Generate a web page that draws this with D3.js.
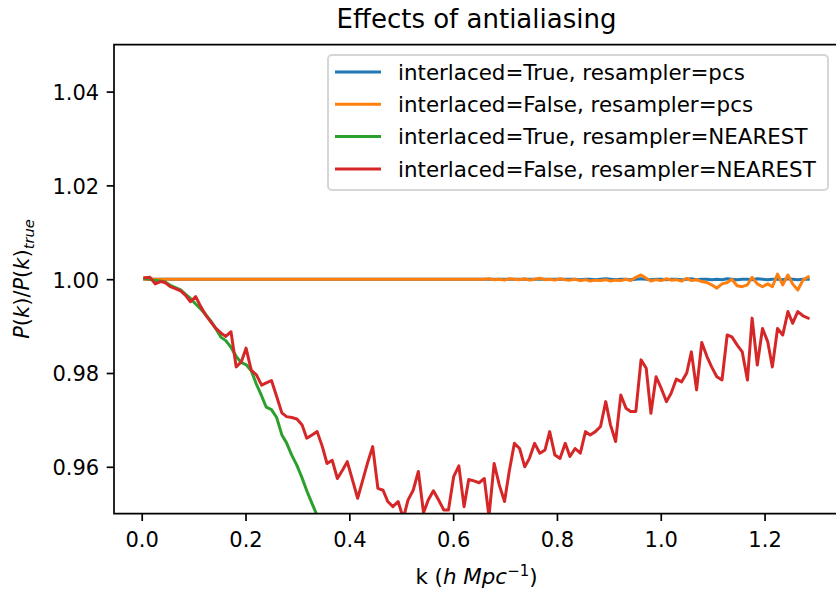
<!DOCTYPE html>
<html><head><meta charset="utf-8">
<script src="https://cdn.jsdelivr.net/npm/d3@7"></script>
<style>body{margin:0;background:#fff}svg{display:block}</style>
</head><body><svg id="c" width="836" height="590"></svg>
<script>
// ---- data ----
const k = [0.006,0.016,0.026,0.036,0.045,0.055,0.065,0.075,0.084,0.094,
0.104,0.114,0.123,0.133,0.143,0.153,0.162,0.172,0.182,0.192,
0.201,0.211,0.221,0.231,0.240,0.250,0.260,0.270,0.279,0.289,
0.299,0.309,0.318,0.328,0.338,0.348,0.357,0.367,0.377,0.387,
0.396,0.406,0.416,0.426,0.435,0.445,0.455,0.465,0.474,0.484,
0.494,0.504,0.513,0.523,0.533,0.543,0.552,0.562,0.572,0.582,
0.591,0.601,0.611,0.621,0.630,0.640,0.650,0.660,0.669,0.679,
0.689,0.699,0.708,0.718,0.728,0.738,0.747,0.757,0.767,0.777,
0.786,0.796,0.806,0.816,0.825,0.835,0.845,0.855,0.864,0.874,
0.884,0.894,0.903,0.913,0.923,0.933,0.942,0.952,0.962,0.972,
0.981,0.991,1.001,1.011,1.020,1.030,1.040,1.050,1.059,1.069,
1.079,1.089,1.098,1.108,1.118,1.128,1.137,1.147,1.157,1.167,
1.176,1.186,1.196,1.206,1.215,1.225,1.235,1.245,1.254,1.264,
1.274,1.284];

const interlacedPcs = [1,1,1,1,1,1,1,1,1,1,
1,1,1,1,1,1,1,1,1,1,
1,1,1,1,1,1,1,1,1,1,
1,1,1,1,1,1,1,1,1,1,
1,1,1,1,1,1,1,1,1,1,
1,1,1,1,1,1,1,1,1,1,
1,1,1,1,1,1,1,1,1,1,
1,1,1,1,1,1,1,1,1,1,
1,1,1,1,1,1.0000,0.9999,1.0000,1.0000,0.9999,
1.0000,1.0001,1.0000,0.9999,1.0000,1.0000,0.9999,1.0000,1.0001,1.0000,
0.9999,1.0000,1.0000,0.9999,1.0000,1.0000,0.9999,1.0000,1.0001,0.9999,
1.0000,1.0000,0.9999,1.0000,0.9999,1.0001,1.0000,0.9999,1.0000,1.0000,
0.9999,1.0001,1.0000,0.9999,1.0000,1.0000,0.9999,1.0001,1.0000,0.9999,
1.0000,1.0000];

const plainPcs = [1,1,1,1,1,1,1,1,1,1,
1,1,1,1,1,1,1,1,1,1,
1,1,1,1,1,1,1,1,1,1,
1,1,1,1,1,1,1,1,1,1,
1,1,1,1,1,1,1,1,1,1,
1,1,1,1,1,1,1,1,1,1,
1,1,1,1,1,1,1,1,1.0001,0.9999,
1.0000,0.9998,1.0001,1.0000,0.9999,1.0001,0.9998,1.0000,1.0002,0.9999,
1.0000,0.9998,1.0001,0.9999,0.9998,1.0000,0.9997,0.9999,0.9996,0.9998,
0.9997,0.9999,0.9996,0.9998,0.9997,1.0000,0.9997,1.0004,1.0009,1.0002,
0.9996,0.9999,0.9997,1.0001,0.9998,0.9999,0.9996,1.0002,0.9997,0.9999,
0.9995,0.9993,0.9988,0.9981,0.9990,0.9993,1.0000,0.9986,0.9984,0.9988,
1.0004,0.9990,0.9984,0.9990,0.9984,1.0011,0.9988,1.0009,0.9990,0.9977,
0.9998,1.0005];

const interlacedNearest = [1.0002,1.0000,0.9997,0.9996,0.9994,0.9987,0.9982,0.9977,0.9968,0.9959,
0.9947,0.9936,0.9925,0.9911,0.9894,0.9876,0.9869,0.9855,0.9835,0.9822,
0.9818,0.9805,0.9776,0.9751,0.9727,0.9722,0.9705,0.9668,0.9651,0.9625,
0.9603,0.9576,0.9549,0.9522,0.9496,0.9468,0.9440,0.9410];

const plainNearest = [1.0003,1.0004,0.9990,0.9995,0.9993,0.9984,0.9980,0.9975,0.9966,0.9952,
0.9963,0.9941,0.9924,0.9909,0.9895,0.9885,0.9878,0.9888,0.9813,0.9824,
0.9853,0.9806,0.9796,0.9774,0.9779,0.9784,0.9750,0.9715,0.9707,0.9705,
0.9702,0.9689,0.9661,0.9668,0.9675,0.9643,0.9607,0.9614,0.9575,0.9593,
0.9611,0.9572,0.9533,0.9572,0.9608,0.9643,0.9554,0.9550,0.9526,0.9515,
0.9526,0.9490,0.9529,0.9550,0.9590,0.9502,0.9529,0.9549,0.9529,0.9508,
0.9508,0.9579,0.9602,0.9515,0.9573,0.9570,0.9566,0.9575,0.9494,0.9607,
0.9561,0.9526,0.9590,0.9650,0.9639,0.9600,0.9618,0.9650,0.9629,0.9636,
0.9675,0.9625,0.9618,0.9650,0.9622,0.9639,0.9629,0.9675,0.9668,0.9675,
0.9686,0.9739,0.9690,0.9654,0.9753,0.9725,0.9718,0.9718,0.9828,0.9810,
0.9714,0.9792,0.9767,0.9739,0.9757,0.9787,0.9781,0.9800,0.9845,0.9764,
0.9865,0.9835,0.9813,0.9792,0.9785,0.9881,0.9877,0.9860,0.9845,0.9785,
0.9917,0.9817,0.9895,0.9867,0.9813,0.9895,0.9881,0.9931,0.9906,0.9931,
0.9922,0.9917];

const seriesLabels = ["interlaced=True, resampler=pcs","interlaced=False, resampler=pcs",
  "interlaced=True, resampler=NEAREST","interlaced=False, resampler=NEAREST"];
const seriesValues = [interlacedPcs, plainPcs, interlacedNearest, plainNearest];
const colors = ["#1f77b4","#ff7f0e","#2ca02c","#d62728"];
const xTicks = [0.0,0.2,0.4,0.6,0.8,1.0,1.2];
const yTicks = [0.96,0.98,1.00,1.02,1.04];
const titleText = "Effects of antialiasing";

// ---- layout ----
const FONT = "'DejaVu Sans', sans-serif";
const FS = 21;
const LFS = 21.4;
const L = 114, R = 839, T = 44.7, B = 513.7;
const svg = d3.select("#c");
const x = d3.scaleLinear().domain([-0.0534, 1.3434]).range([L, R]);
const y = d3.scaleLinear().domain([0.95, 1.05]).range([B, T]);

svg.append("defs").append("clipPath").attr("id","clip")
  .append("rect").attr("x",L).attr("y",T).attr("width",R-L).attr("height",B-T);

const line = d3.line().x(d=>x(d[0])).y(d=>y(d[1]));
const plot = svg.append("g").attr("clip-path","url(#clip)");
seriesValues.forEach((vals,i)=>{
  plot.append("path").datum(vals.map((v,j)=>[k[j],v]))
    .attr("d",line).attr("fill","none").attr("stroke",colors[i])
    .attr("stroke-width",3).attr("stroke-linejoin","round").attr("stroke-linecap","square");
});

// axes
const gx = svg.append("g").attr("transform",`translate(0,${B})`)
  .call(d3.axisBottom(x).tickValues(xTicks).tickFormat(d3.format(".1f")).tickSize(7.3).tickPadding(11.5));
const gy = svg.append("g").attr("transform",`translate(${L},0)`)
  .call(d3.axisLeft(y).tickValues(yTicks).tickFormat(d3.format(".2f")).tickSize(7.3).tickPadding(7.5));
[gx,gy].forEach(g=>{
  g.select(".domain").remove();
  g.selectAll("line").attr("stroke","#000").attr("stroke-width",1.7);
  g.selectAll("text").attr("font-family",FONT).attr("font-size",FS).attr("fill","#000");
});
gy.selectAll("text").attr("dy","0.38em");

// frame
const fr = svg.append("g").attr("stroke","#000").attr("stroke-width",1.7).attr("fill","none");
fr.append("path").attr("d",`M${L},${B}V${T}H${R}V${B}Z`).attr("stroke-linejoin","miter");

// title
svg.append("text").attr("x",(L+R)/2).attr("y",28).attr("text-anchor","middle")
  .attr("font-family",FONT).attr("font-size",26).attr("fill","#000").text(titleText);

// x label
const xl = svg.append("text").attr("x",(L+R)/2).attr("y",584).attr("text-anchor","middle")
  .attr("font-family",FONT).attr("font-size",LFS).attr("fill","#000");
xl.append("tspan").text("k (");
xl.append("tspan").attr("font-style","italic").text("h Mpc");
xl.append("tspan").attr("font-size",LFS*0.7).attr("dy",-8).text("\u22121");
xl.append("tspan").attr("dy",8).text(")");

// y label
const yl = svg.append("text").attr("transform","translate(29,279) rotate(-90)")
  .attr("text-anchor","middle").attr("font-family",FONT).attr("font-size",FS).attr("fill","#000");
yl.append("tspan").attr("font-style","italic").text("P");
yl.append("tspan").text("(");
yl.append("tspan").attr("font-style","italic").text("k");
yl.append("tspan").text(")/");
yl.append("tspan").attr("font-style","italic").text("P");
yl.append("tspan").text("(");
yl.append("tspan").attr("font-style","italic").text("k");
yl.append("tspan").text(")");
yl.append("tspan").attr("font-style","italic").attr("font-size",FS*0.7).attr("dy",4.5).text("true");

// legend
const lg = svg.append("g");
lg.append("rect").attr("x",328).attr("y",55).attr("width",500).attr("height",135).attr("rx",4)
  .attr("fill","#fff").attr("fill-opacity",0.8).attr("stroke","#cccccc").attr("stroke-opacity",0.8).attr("stroke-width",2);
const rowY = [72,104.3,136.6,168.9];
seriesLabels.forEach((lab,i)=>{
  lg.append("line").attr("x1",335).attr("x2",381).attr("y1",rowY[i]).attr("y2",rowY[i])
    .attr("stroke",colors[i]).attr("stroke-width",3);
  lg.append("text").attr("x",398).attr("y",rowY[i]).attr("dy","0.36em")
    .attr("font-family",FONT).attr("font-size",LFS).attr("fill","#000").text(lab);
});
</script></body></html>
